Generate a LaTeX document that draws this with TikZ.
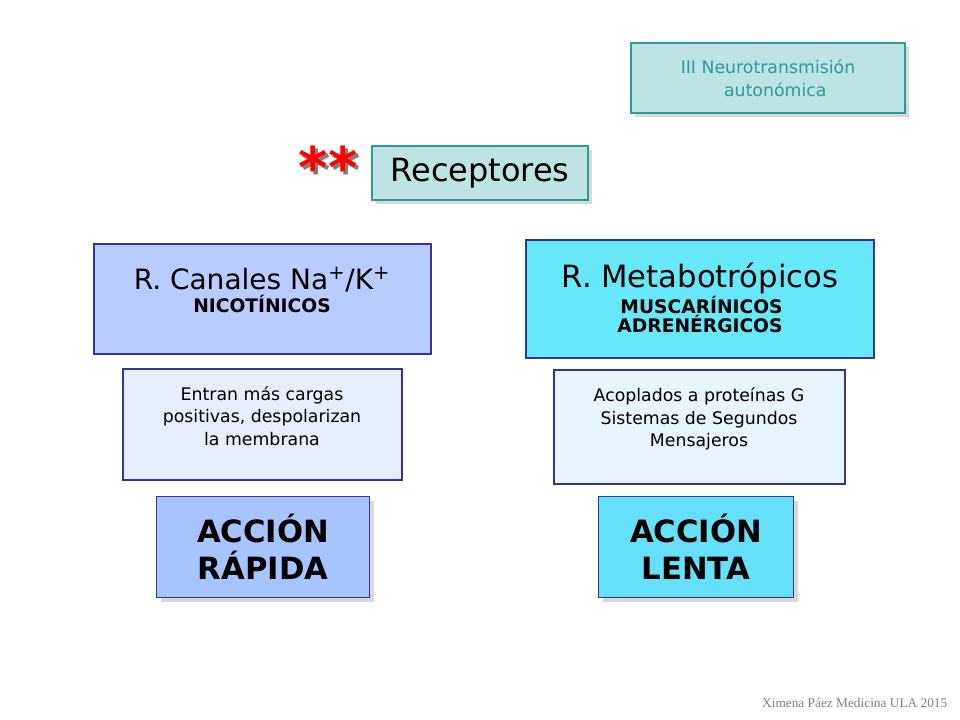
\documentclass[tikz,border=0pt]{standalone}
\usepackage{fontspec}
\setmainfont{DejaVu Sans}
\newfontfamily\serifx{Liberation Serif}
\usetikzlibrary{shadows}
\definecolor{teal1}{HTML}{2E9A9A}
\definecolor{tealfill}{HTML}{BDE3E3}
\definecolor{navy}{HTML}{333399}
\begin{document}
\begin{tikzpicture}[x=0.75pt,y=-0.75pt,
  bx/.style={draw=navy,line width=1.5pt,inner sep=0pt},
  tb/.style={draw=teal1,line width=1.5pt,fill=tealfill,drop shadow={shadow xshift=3pt,shadow yshift=-3pt,fill=gray!60}},
  ab/.style={draw=navy,line width=1pt,drop shadow={shadow xshift=3pt,shadow yshift=-3pt,fill=gray!60}},
  t/.style={align=center,font=\fontsize{13}{17}\selectfont}]
\useasboundingbox[fill=white] (0,0) rectangle (960,720);
\node[tb,minimum width=274*0.75pt,minimum height=70*0.75pt] (tit) at (768,78) {};
\node[t,text=teal1,align=left] at (tit) {III Neurotransmisión\\\hspace{2.5em}autonómica};
\node[tb,minimum width=216*0.75pt,minimum height=54*0.75pt] (rec) at (480,173) {};
\node[font=\fontsize{24}{28}\selectfont] at (rec) {Receptores};
\node[font=\bfseries\fontsize{42}{42}\selectfont,text=gray] (st) at (331,170) {**};
\node[font=\bfseries\fontsize{42}{42}\selectfont,text=red] (st2) at (328,167) {**};
\draw[bx,fill={rgb,255:red,184;green,204;blue,255}] (94,244) rectangle (431,354);
\node[align=center] (lt) at (262,290) {{\fontsize{21}{26}\selectfont R. Canales Na\textsuperscript{+}/K\textsuperscript{+}}\\[2pt]{\bfseries\fontsize{14}{18}\selectfont NICOTÍNICOS}};
\draw[bx,fill={rgb,255:red,102;green,232;blue,248}] (526,240) rectangle (874,358);
\node[align=center] (rt) at (700,298) {{\fontsize{23}{27}\selectfont R. Metabotrópicos}\\[1pt]{\bfseries\fontsize{14}{19}\selectfont \,MUSCARÍNICOS}\\{\bfseries\fontsize{14}{19}\selectfont ADRENÉRGICOS}};
\draw[bx,fill={rgb,255:red,232;green,238;blue,255}] (123,369) rectangle (402,480);
\node[t] (ld) at (262,416) {Entran más cargas\\positivas, despolarizan\\la membrana};
\draw[bx,fill={rgb,255:red,232;green,244;blue,255}] (554,370) rectangle (845,484);
\node[t] (rd) at (699,419) {Acoplados a proteínas G\\Sistemas de Segundos\\Mensajeros};
\node[ab,fill={rgb,255:red,168;green,196;blue,255},minimum width=213*0.75pt,minimum height=101*0.75pt] (ar) at (263,547) {};
\node[align=center,font=\bfseries\fontsize{23}{28}\selectfont] at (ar) {ACCIÓN\\RÁPIDA};
\node[ab,fill={rgb,255:red,102;green,224;blue,248},minimum width=195*0.75pt,minimum height=101*0.75pt] (al) at (696,547) {};
\node[align=center,font=\bfseries\fontsize{23}{28}\selectfont] at (al) {ACCIÓN\\LENTA};
\node[font=\serifx\fontsize{10}{12}\selectfont,text=gray,anchor=east] (ft) at (952,703) {Ximena Páez Medicina ULA 2015};
\end{tikzpicture}
\end{document}
